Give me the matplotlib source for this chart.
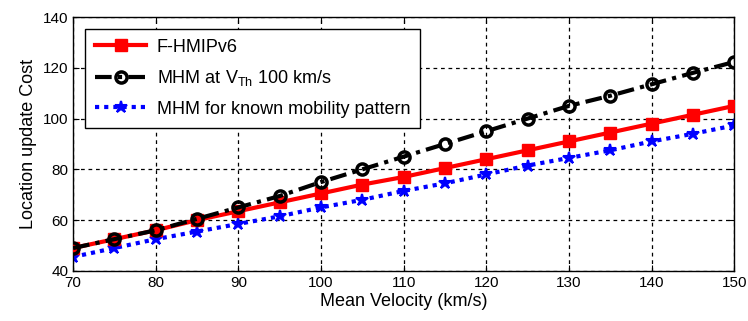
import matplotlib
matplotlib.use("Agg")
import matplotlib.pyplot as plt

velocity = [70, 75, 80, 85, 90, 95, 100, 105, 110, 115, 120, 125, 130, 135, 140, 145, 150]
fhmipv6 = [49, 52.5, 56, 60, 63.5, 67, 70.5, 74, 77, 80.5, 84, 87.5, 91, 94.5, 98, 101.5, 105]
mhm_vth = [49, 52.5, 56, 60.5, 65, 69.5, 75, 80, 85, 90, 95, 100, 105, 109, 113.5, 118, 122.3]
mhm_known = [45.5, 49, 52.5, 55.5, 58.5, 61.5, 65, 68, 71.5, 74.5, 78, 81.5, 84.5, 87.5, 91, 94, 97.3]
xticks = [70, 80, 90, 100, 110, 120, 130, 140, 150]
yticks = [40, 60, 80, 100, 120, 140]

plt.rcParams['font.family'] = ['Liberation Sans', 'DejaVu Sans']

fig = plt.figure(figsize=(7.48, 3.21), dpi=100)
ax = fig.add_axes([0.0976, 0.156, 0.884, 0.791])

ax.plot(velocity, fhmipv6, color='red', lw=3, marker='s', ms=8,
        mfc='red', mec='red', label='F-HMIPv6', zorder=3)
ax.plot(velocity, mhm_vth, color='black', lw=3, ls=(0, (4, 1.5, 1, 1.5)), marker='o', ms=8,
        mfc='none', mec='black', mew=2.5, label='MHM at V$_{\\mathregular{Th}}$ 100 km/s', zorder=4)
ax.plot(velocity, mhm_known, color='blue', lw=3, ls=(0, (1, 1.2)), marker='*', ms=9,
        mfc='blue', mec='blue', mew=1.5, label='MHM for known mobility pattern', zorder=2)

ax.set_xlim(70, 150)
ax.set_ylim(40, 140)
ax.set_xticks(xticks)
ax.set_yticks(yticks)
ax.tick_params(direction='in', top=True, right=True, labelsize=11, length=4)
ax.grid(True, color='black', ls=(0, (3, 3)), lw=0.9)
for s in ax.spines.values():
    s.set_linewidth(1.0)

ax.set_xlabel('Mean Velocity (km/s)', fontsize=13, labelpad=2)
ax.set_ylabel('Location update Cost', fontsize=13, labelpad=4)

leg = ax.legend(loc='upper left', fontsize=13, fancybox=False, edgecolor='black',
                framealpha=1, handlelength=2.8, handletextpad=0.6, borderpad=0.55,
                labelspacing=0.7, bbox_to_anchor=(0.005, 0.99))
leg.get_frame().set_linewidth(1.0)

fig.savefig('out.png', dpi=100)
